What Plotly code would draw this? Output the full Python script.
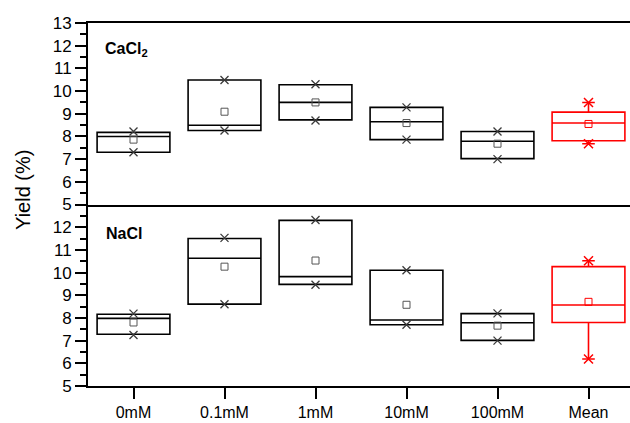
import plotly.graph_objects as go

cats = ["0mM", "0.1mM", "1mM", "10mM", "100mM"]
all_cats = cats + ["Mean"]

# CaCl2 (top panel)
ca_q3 = [8.18, 10.49, 10.28, 9.28, 8.22]
ca_med = [8.00, 8.49, 9.50, 8.65, 7.79]
ca_q1 = [7.30, 8.26, 8.73, 7.86, 7.02]
ca_mean = [7.86, 9.09, 9.50, 8.59, 7.68]
ca_max = [8.22, 10.49, 10.30, 9.28, 8.22]
ca_min = [7.30, 8.26, 8.70, 7.86, 7.00]
ca_tot = dict(q1=7.81, med=8.59, q3=9.07, mean=8.55, lo=7.68, hi=9.50)

# NaCl (bottom panel)
na_q3 = [8.16, 11.50, 12.30, 10.10, 8.19]
na_med = [7.98, 10.63, 9.82, 7.91, 7.79]
na_q1 = [7.28, 8.61, 9.48, 7.70, 7.01]
na_mean = [7.80, 10.26, 10.53, 8.58, 7.66]
na_max = [8.19, 11.53, 12.32, 10.10, 8.20]
na_min = [7.25, 8.60, 9.46, 7.70, 7.00]
na_tot = dict(q1=7.80, med=8.57, q3=10.26, mean=8.71, lo=6.19, hi=10.52)

top_ticks = [5, 6, 7, 8, 9, 10, 11, 12, 13]
bot_ticks = [5, 6, 7, 8, 9, 10, 11, 12]
minor_vals = [5.5, 6.5, 7.5, 8.5, 9.5, 10.5, 11.5, 12.5]

RED = "#ff0000"
fig = go.Figure()


def add_panel(xa, ya, q1, med, q3, mean, mx, mn, tot):
    fig.add_trace(go.Box(
        x=cats, q1=q1, median=med, q3=q3, lowerfence=q1, upperfence=q3,
        width=0.8, whiskerwidth=0, line=dict(color="black", width=1.6),
        fillcolor="rgba(0,0,0,0)", boxpoints=False, hoverinfo="skip",
        showlegend=False, xaxis=xa, yaxis=ya))
    fig.add_trace(go.Box(
        x=["Mean"], q1=[tot["q1"]], median=[tot["med"]], q3=[tot["q3"]],
        lowerfence=[tot["lo"]], upperfence=[tot["hi"]],
        width=0.8, whiskerwidth=0, line=dict(color=RED, width=1.6),
        fillcolor="rgba(0,0,0,0)", boxpoints=False, hoverinfo="skip",
        showlegend=False, xaxis=xa, yaxis=ya))
    fig.add_trace(go.Scatter(
        x=cats + cats, y=mx + mn, mode="markers",
        marker=dict(symbol="x-thin-open", size=8, color="#3a3a3a", line=dict(width=1.3)),
        showlegend=False, xaxis=xa, yaxis=ya))
    fig.add_trace(go.Scatter(
        x=cats, y=mean, mode="markers",
        marker=dict(symbol="square-open", size=7, color="#555555", line=dict(width=1)),
        showlegend=False, xaxis=xa, yaxis=ya))
    fig.add_trace(go.Scatter(
        x=["Mean"], y=[tot["mean"]], mode="markers",
        marker=dict(symbol="square-open", size=7, color=RED, line=dict(width=1)),
        showlegend=False, xaxis=xa, yaxis=ya))
    for sym in ["x-thin-open", "line-ew-open"]:
        fig.add_trace(go.Scatter(
            x=["Mean", "Mean"], y=[tot["lo"], tot["hi"]], mode="markers",
            marker=dict(symbol=sym, size=9, color=RED, line=dict(width=1.5)),
            showlegend=False, xaxis=xa, yaxis=ya))


add_panel("x2", "y2", ca_q1, ca_med, ca_q3, ca_mean, ca_max, ca_min, ca_tot)
add_panel("x", "y", na_q1, na_med, na_q3, na_mean, na_max, na_min, na_tot)

yax_common = dict(range=[5, 13], showline=True, linewidth=2, linecolor="black",
                  ticks="outside", ticklen=11, tickwidth=2, tickcolor="black",
                  showgrid=False, zeroline=False,
                  tickfont=dict(size=17, color="black"),
                  minor=dict(tickvals=minor_vals, ticks="outside", ticklen=6,
                             tickwidth=1.5, tickcolor="black", showgrid=False))

fig.update_layout(
    width=630, height=423,
    margin=dict(l=88, r=0, t=23, b=37),
    paper_bgcolor="white", plot_bgcolor="white",
    font=dict(family="Liberation Sans, Arial, sans-serif", color="black"),
    xaxis=dict(domain=[0, 1], anchor="y", type="category",
               categoryorder="array", categoryarray=all_cats,
               range=[-0.5, 5.456], showline=True, linewidth=2, linecolor="black",
               mirror=False, ticks="outside", ticklen=11, tickwidth=2,
               tickcolor="black", showgrid=False, zeroline=False,
               tickfont=dict(size=16, color="black")),
    xaxis2=dict(domain=[0, 1], anchor="y2", matches="x", type="category",
                categoryorder="array", categoryarray=all_cats,
                showline=True, linewidth=2, linecolor="black", mirror=True,
                ticks="", showticklabels=False, showgrid=False, zeroline=False),
    yaxis=dict(domain=[0, 0.5], anchor="x", tickmode="array", tickvals=bot_ticks,
               **yax_common),
    yaxis2=dict(domain=[0.5, 1], anchor="x2", tickmode="array", tickvals=top_ticks,
                **yax_common),
    annotations=[
        dict(text="Yield (%)", textangle=-90, xref="paper", yref="paper",
             x=-0.12, y=0.54, xanchor="center", yanchor="middle",
             showarrow=False, font=dict(size=20, color="black")),
        dict(text="<b>CaCl<sub>2</sub></b>", xref="paper", yref="paper",
             x=0.027, y=0.926, xanchor="left", yanchor="middle",
             showarrow=False, font=dict(size=16, color="black")),
        dict(text="<b>NaCl</b>", xref="paper", yref="paper",
             x=0.029, y=0.419, xanchor="left", yanchor="middle",
             showarrow=False, font=dict(size=16, color="black")),
    ],
)

fig.write_html("out.html")
